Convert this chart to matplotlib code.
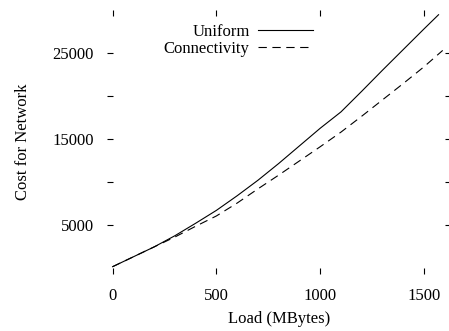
import matplotlib
matplotlib.use("Agg")
import matplotlib.pyplot as plt

# values
load_uniform = [0, 100, 200, 300, 400, 500, 600, 700, 800, 900, 1000,
                1100, 1200, 1300, 1400, 1500, 1570]
cost_uniform = [150, 1300, 2450, 3750, 5200, 6700, 8400, 10200, 12150,
                14200, 16250, 18150, 20550, 23000, 25400, 27800, 29450]

load_conn = [0, 100, 200, 300, 400, 500, 600, 700, 800, 900, 1000,
             1100, 1200, 1300, 1400, 1500, 1590]
cost_conn = [150, 1300, 2450, 3600, 4850, 6050, 7550, 9200, 10800, 12450,
             14100, 15800, 17650, 19550, 21450, 23400, 25300]

x_ticks = [0, 500, 1000, 1500]
y_ticks = [5000, 10000, 15000, 20000, 25000]
y_labels = ["5000", "", "15000", "", "25000"]

plt.rcParams["font.family"] = ["Liberation Serif", "DejaVu Serif"]
plt.rcParams["font.size"] = 12

W, H = 449, 331
fig = plt.figure(figsize=(W / 100, H / 100), dpi=100)
ax = fig.add_axes([107 / W, (H - 274) / H, (451 - 107) / W, (274 - 10) / H])

ax.plot(load_uniform, cost_uniform, color="black", lw=0.8, label="Uniform")
ax.plot(load_conn, cost_conn, color="black", lw=0.8, linestyle=(0, (7.5, 5)),
        label="Connectivity")

ax.set_xlim(-27, 1630)
ax.set_ylim(-700, 30000)
ax.set_xticks(x_ticks)
ax.set_yticks(y_ticks)
ax.set_yticklabels(y_labels)

for s in ax.spines.values():
    s.set_visible(False)
ax.tick_params(direction="in", length=4, width=0.8, top=True, right=True,
               colors="black")
ax.tick_params(axis="x", pad=10)
ax.tick_params(axis="y", pad=9.5)

ax.set_xlabel("Load (MBytes)", labelpad=5)
ax.set_ylabel("Cost for Network", labelpad=15)

ax.legend(loc="upper right", bbox_to_anchor=(313 / W, 1 - 24 / H),
          bbox_transform=fig.transFigure, frameon=False, markerfirst=False,
          handlelength=3.3, handletextpad=0.5, labelspacing=0.05, borderpad=0,
          borderaxespad=0)

fig.savefig("out.png", dpi=100)
